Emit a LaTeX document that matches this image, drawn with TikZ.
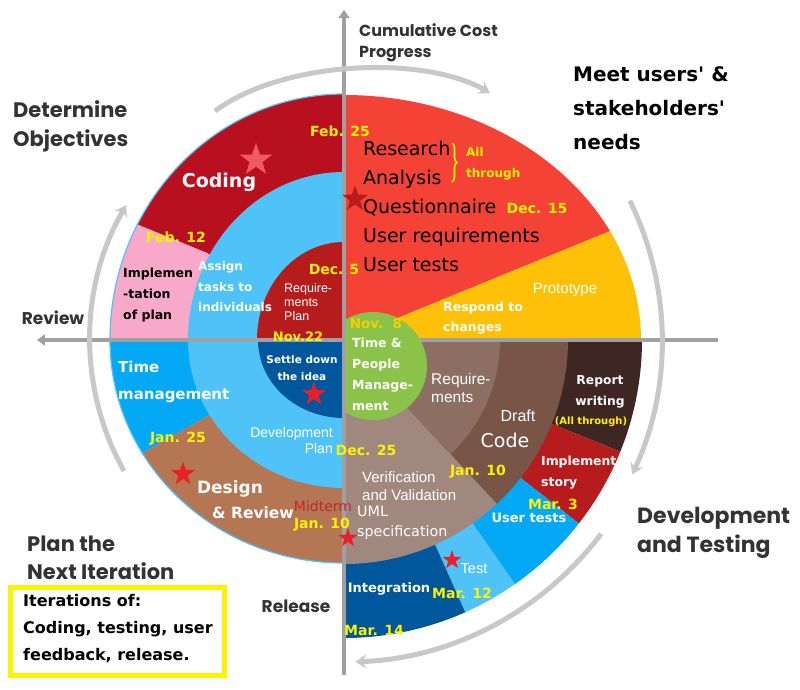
\documentclass[tikz,border=0pt]{standalone}
\usepackage{fontspec}
\setmainfont{DejaVu Sans}
\newfontfamily\hdfont{Poppins}
\newfontfamily\arfont{Liberation Sans}
\newfontfamily\cmfont{DejaVu Sans}[Ligatures=TeXOff]
\usetikzlibrary{shapes.geometric,arrows.meta,decorations.pathreplacing}
\newcommand\fsz[2]{\fontsize{#1}{#2}\selectfont}

\definecolor{axisgray}{HTML}{A0A0A0}
\definecolor{arcgray}{HTML}{C8C8C8}
\definecolor{headgray}{HTML}{333333}
\definecolor{datey}{HTML}{FFF200}
\definecolor{nov8y}{HTML}{F5D000}
\definecolor{codingred}{HTML}{B8101E}
\definecolor{pinkplan}{HTML}{F8A8C8}
\definecolor{skyblue}{HTML}{4FC3F7}
\definecolor{midblue}{HTML}{03A9F4}
\definecolor{deepblue}{HTML}{01579B}
\definecolor{darkred}{HTML}{B71C1C}
\definecolor{designbrown}{HTML}{B57654}
\definecolor{tomato}{HTML}{F44336}
\definecolor{amber}{HTML}{FFC107}
\definecolor{leaf}{HTML}{8BC34A}
\definecolor{brownA}{HTML}{8D6E63}
\definecolor{brownB}{HTML}{795548}
\definecolor{brownC}{HTML}{A1887F}
\definecolor{cocoa}{HTML}{3E2723}
\definecolor{starred}{HTML}{E8202A}
\definecolor{starpink}{HTML}{EF5A63}
\definecolor{midterm}{HTML}{C0282D}
\definecolor{boxyellow}{HTML}{FFF200}

\begin{document}
\begin{tikzpicture}[x=1pt,y=1pt,
  axisline/.style={draw=axisgray,line width=4.5pt},
  turn/.style={draw=arcgray,line width=5pt,-{Stealth[length=11pt,width=14pt,inset=4pt]}},
  lbl/.style={inner sep=0pt},
  head/.style={inner sep=0pt,text=headgray},
  date/.style={inner sep=0pt,text=datey,font=\cmfont\bfseries\fsz{14}{16}},
  startag/.style={star,star points=5,star point ratio=2.5,inner sep=0pt,draw=none}]

\useasboundingbox (-344,-349) rectangle (456,340);
\fill[white] (-344,-349) rectangle (456,340);

% ---- left half: outer ring ----
\fill[codingred] (0,0) -- (90:234 and 246) arc[start angle=90,end angle=152,x radius=234,y radius=246] -- (-137,87) -- cycle;
\fill[pinkplan] (0,0) -- (-137,87) -- (152:234 and 246) arc[start angle=152,end angle=180,x radius=234,y radius=246] -- cycle;
\fill[midblue] (0,0) -- (180:234 and 223) arc[start angle=180,end angle=210.5,x radius=234,y radius=223] -- (-131,-73) -- cycle;
\fill[designbrown] (0,0) -- (-131,-73) -- (210.5:234 and 223) arc[start angle=210.5,end angle=270,x radius=234,y radius=223] -- cycle;
\draw[skyblue,line width=1.2pt] (90:234 and 246) arc[start angle=90,end angle=180,x radius=234,y radius=246]
  arc[start angle=180,end angle=270,x radius=234,y radius=223];
% middle ring and inner core
\fill[skyblue] (0,0) -- (0,168) arc[start angle=90,end angle=180,x radius=156,y radius=168]
  arc[start angle=180,end angle=270,x radius=156,y radius=148] -- cycle;
\fill[darkred] (0,0) -- (0,98) arc[start angle=90,end angle=180,x radius=87,y radius=98] -- cycle;
\fill[deepblue] (0,0) -- (-86,0) arc[start angle=180,end angle=270,x radius=86,y radius=78] -- cycle;

% ---- upper right ----
\fill[tomato] (0,0) -- (0,245) arc[start angle=90,end angle=26.4,x radius=297,y radius=245] -- cycle;
\fill[amber] (0,0) -- (26.4:297 and 245) arc[start angle=26.4,end angle=0,x radius=297,y radius=245] -- cycle;

% ---- lower right ----
\fill[cocoa] (0,0) -- (0:298) arc[start angle=0,end angle=-22,radius=298] -- cycle;
\fill[darkred] (0,0) -- (-22:298) arc[start angle=-22,end angle=-38,radius=298] -- cycle;
\fill[midblue] (0,0) -- (-38:298) arc[start angle=-38,end angle=-55,radius=298] -- cycle;
\fill[skyblue] (0,0) -- (-55:298) arc[start angle=-55,end angle=-66,radius=298] -- cycle;
\fill[deepblue] (0,0) -- (-66:298) arc[start angle=-66,end angle=-90,radius=298] -- cycle;
\fill[brownB] (0,0) -- (0:224) arc[start angle=0,end angle=-47,radius=224] -- cycle;
\fill[brownC] (0,0) -- (-47:224) arc[start angle=-47,end angle=-90,radius=224] -- cycle;
\fill[brownA] (0,0) -- (0:156) arc[start angle=0,end angle=-47,radius=156] -- cycle;

% ---- axes and centre disc ----
\draw[axisline,-{Triangle[length=8pt,width=11pt]}] (374,0) -- (-307,0);
\begin{scope}
  \clip (0,-100) rectangle (100,100);
  \fill[leaf] (29,-26) circle[radius=54];
\end{scope}
\draw[axisline,-{Triangle[length=8pt,width=11pt]}] (0,-335) -- (0,330);

% ---- cycle arrows ----
\draw[turn] (-129,229) .. controls (-60,280) and (80,285) .. (146,247);
\draw[turn] (26:318) arc[start angle=26,end angle=-25,radius=318];
\draw[turn] (-37:322) arc[start angle=-37,end angle=-88,radius=322];
\draw[turn] (210:254 and 262) arc[start angle=210,end angle=149,x radius=254,y radius=262];

% brace next to the first two activities
\draw[datey,line width=1.6pt,decorate,decoration={brace,amplitude=5pt}] (108,197) -- (108,158);

% ---- labels, placed in image coordinates ----
\begin{scope}[shift={(-344,340)},yscale=-1]
\node[startag,fill=starpink,minimum size=34pt] (starA) at (256,160) {};
\node[startag,fill=darkred,minimum size=27pt] (starB) at (355,199) {};
\node[startag,fill=starred,minimum size=25pt] (starC) at (314,394) {};
\node[startag,fill=starred,minimum size=25pt] (starD) at (183,474) {};
\node[startag,fill=starred,minimum size=20pt] (starE) at (348,538) {};
\node[startag,fill=starred,minimum size=20pt] (starF) at (452,560) {};

\draw[boxyellow,line width=5pt] (11,587.5) rectangle (225,675);

\node[head,font=\hdfont\bfseries\fsz{21}{29},align=left,anchor=west] (objectives) at (13,126) {Determine\\Objectives};
\node[head,font=\hdfont\bfseries\fsz{16}{21},align=left,anchor=west] (cost) at (359,43) {Cumulative Cost\\Progress};
\node[head,font=\hdfont\bfseries\fsz{17}{22}] (review) at (53,318) {Review};
\node[head,font=\hdfont\bfseries\fsz{17}{22}] (release) at (296,606) {Release};
\node[head,font=\hdfont\bfseries\fsz{21}{28},align=left,anchor=west] (plan) at (27,558) {Plan the\\Next Iteration};
\node[head,font=\hdfont\bfseries\fsz{22}{29},align=left,anchor=west] (devtest) at (637,533) {Development\\and Testing};

\node[lbl,font=\cmfont\bfseries\fsz{20}{34},align=left,anchor=west] (needs) at (573,108) {Meet users' \&\\stakeholders'\\needs};
\node[lbl,font=\cmfont\fsz{19}{29},align=left,anchor=west] (tasks) at (363,206) {Research\\Analysis\\Questionnaire\\User requirements\\User tests};
\node[lbl,text=datey,font=\cmfont\bfseries\fsz{12}{21},align=left,anchor=west] (allthrough) at (466,164) {All\\through};

\node[date] (feb25) at (340,131) {Feb. 25};
\node[date] (dec15) at (537,208) {Dec. 15};
\node[date] (feb12) at (176,237) {Feb. 12};
\node[date] (dec5) at (334,269) {Dec.\hspace{6pt}5};
\node[date,font=\cmfont\bfseries\fsz{13}{15}] (nov22) at (298,337) {Nov.22};
\node[date] (jan25) at (178,439) {Jan. 25};
\node[date] (dec25) at (366,450) {Dec. 25};
\node[date] (jan10a) at (322,525) {Jan. 10};
\node[date] (jan10b) at (478,472) {Jan. 10};
\node[date,text=nov8y,font=\cmfont\bfseries\fsz{13.5}{15}] (nov8) at (376,324) {Nov.\ \ 8};
\node[date] (mar3) at (553,504) {Mar. 3};
\node[date] (mar12) at (462,593) {Mar. 12};
\node[date] (mar14) at (374,630) {Mar. 14};
\node[date,font=\cmfont\bfseries\fsz{10}{12}] (allthrough2) at (591,422) {(All through)};

\node[lbl,text=white,font=\cmfont\bfseries\fsz{19}{22}] (coding) at (219,182) {Coding};
\node[lbl,font=\cmfont\bfseries\fsz{12.5}{21},align=left,anchor=west] (impl) at (123,295) {Implemen\\-tation\\of plan};
\node[lbl,text=white,font=\cmfont\bfseries\fsz{12}{20.5},align=left,anchor=west] (assign) at (198,287) {Assign\\tasks to\\individuals};
\node[lbl,text=white,font=\arfont\fsz{12.5}{14},align=left,anchor=west] (reqplan) at (284,302) {Require-\\ments\\Plan};
\node[lbl,text=white,font=\cmfont\bfseries\fsz{10.5}{17},align=center] (settle) at (302,368) {Settle down\\the idea};
\node[lbl,text=white,font=\cmfont\bfseries\fsz{15}{27},align=left,anchor=west] (timemgmt) at (118,382) {Time\\management};
\node[lbl,text=white,font=\arfont\fsz{14}{16},align=right,anchor=east] (devplan) at (333,440) {Development\\Plan};
\node[lbl,text=white,font=\cmfont\bfseries\fsz{17}{20}] (design) at (230,489) {Design};
\node[lbl,text=white,font=\cmfont\bfseries\fsz{15.5}{20}] (review2) at (253,513) {\& Review};
\node[lbl,text=midterm,font=\cmfont\fsz{14}{16}] (midterm) at (323,506) {Midterm};
\node[lbl,text=white,font=\cmfont\bfseries\fsz{12.5}{21},align=left,anchor=west] (people) at (352,374) {Time \&\\People\\Manage-\\ment};
\node[lbl,text=white,font=\arfont\fsz{15}{18}] (prototype) at (565,290) {Prototype};
\node[lbl,text=white,font=\cmfont\bfseries\fsz{12.5}{20},align=left,anchor=west] (respond) at (443,318) {Respond to\\changes};
\node[lbl,text=white,font=\arfont\fsz{15.5}{18},align=left,anchor=west] (reqs) at (431,388) {Require-\\ments};
\node[lbl,text=white,font=\arfont\fsz{16}{18}] (draft) at (518,416) {Draft};
\node[lbl,text=white,font=\cmfont\fsz{19}{21}] (code) at (505,440) {Code};
\node[lbl,text=white,font=\cmfont\bfseries\fsz{12.3}{21},align=center] (report) at (600,392) {Report\\writing};
\node[lbl,text=white,font=\cmfont\bfseries\fsz{12.4}{21},align=left,anchor=west] (story) at (541,473) {Implement\\story};
\node[lbl,text=white,font=\cmfont\bfseries\fsz{13}{15}] (usertests) at (529,518) {User tests};
\node[lbl,text=white,font=\arfont\fsz{15}{18},align=left,anchor=west] (verif) at (362,486) {Verification\\and Validation};
\node[lbl,text=white,font=\cmfont\fsz{14.3}{20},align=left,anchor=west] (uml) at (357,523) {UML\\specification};
\node[lbl,text=white,font=\arfont\fsz{14.5}{16}] (test) at (474,569) {Test};
\node[lbl,text=white,font=\cmfont\bfseries\fsz{13}{15}] (integration) at (389,589) {Integration};
\node[lbl,font=\cmfont\bfseries\fsz{16}{27},align=left,anchor=west] (iterations) at (23,629) {Iterations of:\\Coding, testing, user\\feedback, release.};
\end{scope}
\end{tikzpicture}
\end{document}
